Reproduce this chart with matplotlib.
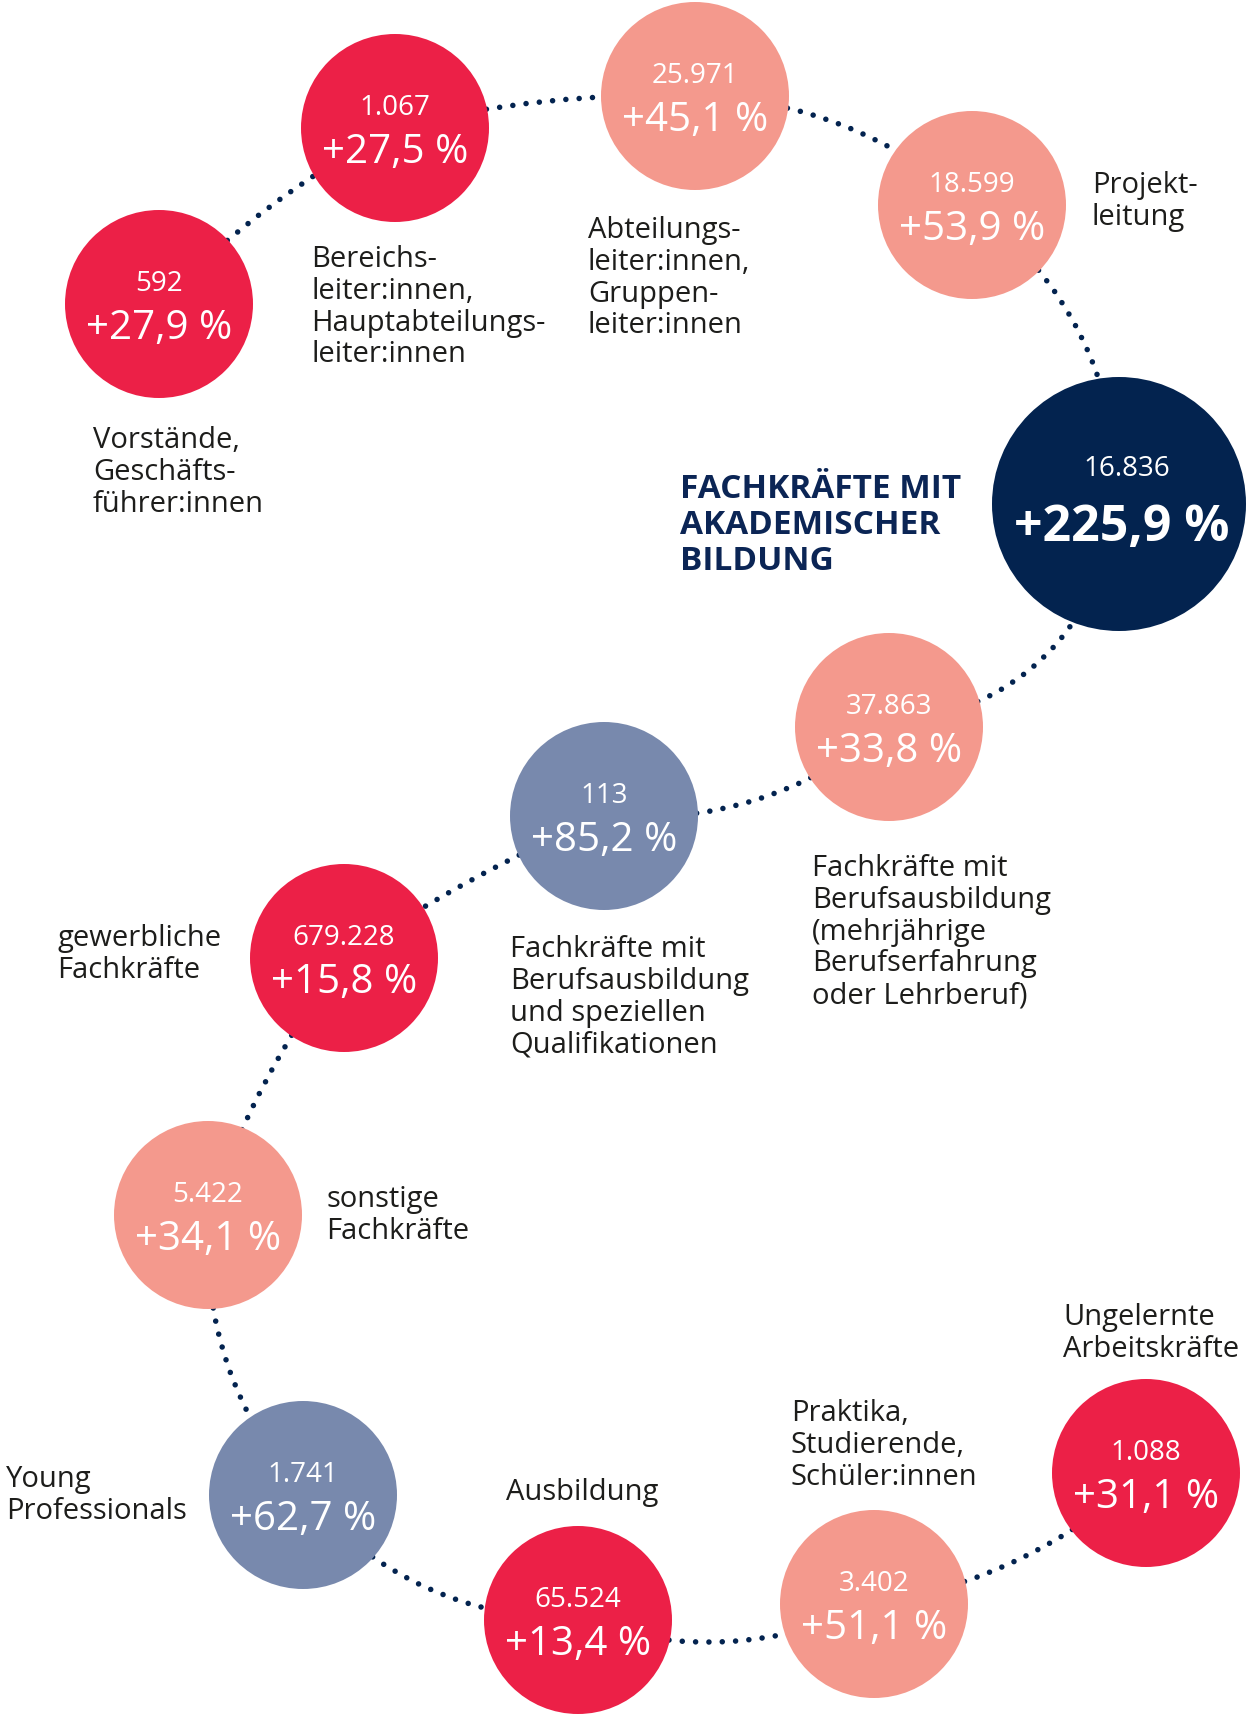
import matplotlib
matplotlib.use('Agg')
import matplotlib.pyplot as plt
from matplotlib.patches import Circle, FancyArrowPatch

plt.rcParams['font.family'] = ['Open Sans', 'DejaVu Sans']

# data: Anzahl und Veränderung je Gruppe
labels = [
    'Vorstände,\nGeschäfts-\nführer:innen',
    'Bereichs-\nleiter:innen,\nHauptabteilungs-\nleiter:innen',
    'Abteilungs-\nleiter:innen,\nGruppen-\nleiter:innen',
    'Projekt-\nleitung',
    'FACHKRÄFTE MIT\nAKADEMISCHER\nBILDUNG',
    'Fachkräfte mit\nBerufsausbildung\n(mehrjährige\nBerufserfahrung\noder Lehrberuf)',
    'Fachkräfte mit\nBerufsausbildung\nund speziellen\nQualifikationen',
    'gewerbliche\nFachkräfte',
    'sonstige\nFachkräfte',
    'Young\nProfessionals',
    'Ausbildung',
    'Praktika,\nStudierende,\nSchüler:innen',
    'Ungelernte\nArbeitskräfte',
]
counts = [592, 1067, 25971, 18599, 16836, 37863, 113, 679228, 5422, 1741, 65524, 3402, 1088]
growth = [27.9, 27.5, 45.1, 53.9, 225.9, 33.8, 85.2, 15.8, 34.1, 62.7, 13.4, 51.1, 31.1]
groups = ['rot', 'rot', 'lachs', 'lachs', 'navy', 'lachs', 'grau', 'rot', 'lachs', 'grau', 'rot', 'lachs', 'rot']
highlight = 4

# layout (pixel coords of the infographic)
colors = {'rot': '#EC2047', 'lachs': '#F4998D', 'navy': '#03234F', 'grau': '#7889AD'}
centers = [(159, 304), (395, 128), (695, 96), (972, 205), (1119, 504), (889, 727),
           (604, 816), (344, 958), (208, 1215), (303, 1495), (578, 1620), (874, 1604),
           (1146, 1473)]
# first-line baseline of each label
label_pos = [(93, 448), (311, 267), (588, 238), (1092, 193), (680, 498), (812, 876),
             (510, 957), (57, 946), (326, 1207), (6, 1487), (506, 1500), (791, 1421),
             (1063, 1325)]
# bend of the dotted connectors
bends = [-0.08, -0.07, -0.18, -0.24, -0.36, -0.2, 0.05, 0.08, 0.2, 0.22, 0.2, 0.15]

fig = plt.figure(figsize=(12.46, 17.17), dpi=100)
ax = fig.add_axes([0, 0, 1, 1])
ax.set_xlim(0, 1246)
ax.set_ylim(1717, 0)
ax.set_aspect('equal')
ax.axis('off')

# gepunktete Verbindungen
for i in range(len(centers) - 1):
    con = FancyArrowPatch(centers[i], centers[i + 1], arrowstyle='-',
                          connectionstyle='arc3,rad=%s' % bends[i],
                          shrinkA=0, shrinkB=0, color='#03234F', lw=4,
                          linestyle=(0, (0.001, 2.4)), capstyle='round', zorder=1)
    ax.add_patch(con)

for i, (cx, cy) in enumerate(centers):
    big = (i == highlight)
    r = 127 if big else 94
    ax.add_patch(Circle((cx, cy), r, color=colors[groups[i]], lw=0, zorder=3))
    num = '{:,}'.format(counts[i]).replace(',', '.')
    pct = ('+%.1f %%' % growth[i]).replace('.', ',')
    if big:
        ax.text(cx + 8, cy - 35, num, color='white', fontsize=20, ha='center', va='center', zorder=4)
        ax.text(cx + 3, cy + 24, pct, color='white', fontsize=36, fontweight='bold',
                ha='center', va='center', zorder=4)
    else:
        ax.text(cx, cy - 20, num, color='white', fontsize=20, ha='center', va='center', zorder=4)
        ax.text(cx, cy + 25, pct, color='white', fontsize=29, ha='center', va='center', zorder=4)

    # Beschriftung Zeile für Zeile
    lx, ly = label_pos[i]
    for k, line in enumerate(labels[i].split('\n')):
        if big:
            ax.text(lx, ly + k * 36, line, color='#0B2555', fontsize=24, fontweight='bold',
                    ha='left', va='baseline')
        else:
            ax.text(lx, ly + k * 31.8, line, color='#1D1D1B', fontsize=21,
                    ha='left', va='baseline')

fig.savefig('out.png', dpi=100, facecolor='white')
